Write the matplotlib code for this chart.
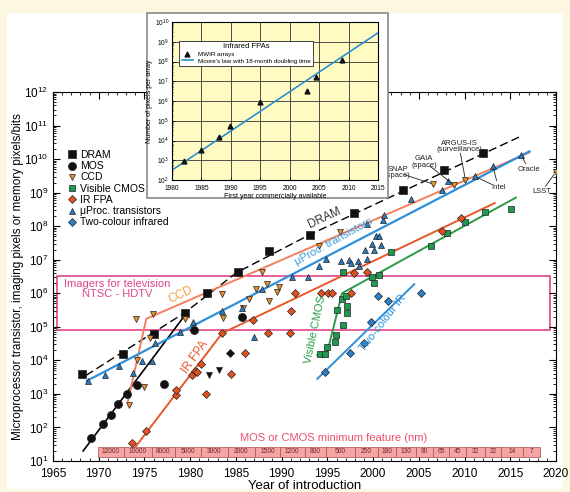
import numpy as np
import matplotlib.pyplot as plt
from matplotlib.patches import Rectangle
from matplotlib.ticker import LogLocator, MultipleLocator, NullFormatter, FuncFormatter
from matplotlib.lines import Line2D

plt.rcParams['font.family'] = ['Liberation Sans', 'DejaVu Sans']
plt.rcParams['mathtext.default'] = 'regular'

# ---- main chart data (values as log10 exponents) ----
dram_year = [1968.2, 1972.6, 1976.0, 1979.4, 1981.8, 1985.2, 1988.6, 1993.1, 1997.9, 2003.3, 2007.7, 2012.0]
dram_exp = [3.6, 4.2, 4.8, 5.42, 6.02, 6.62, 7.25, 7.75, 8.4, 9.08, 9.68, 10.18]
dram_fit_year = [1968.6, 1979.4, 1985.1, 1993.1, 2016.3]
dram_fit_exp = [3.55, 5.42, 6.62, 7.75, 10.7]

mos_year = [1969.2, 1970.5, 1971.3, 1972.1, 1973.1, 1974.2, 1977.1, 1980.4, 1985.7]
mos_exp = [1.7, 2.1, 2.38, 2.7, 3.0, 3.28, 3.3, 4.9, 5.28]
mos_fit_year = [1968.3, 1979.3]
mos_fit_exp = [1.3, 5.3]

other_diamond = ([1984.4], [4.22])
other_tri = ([1982.1, 1983.2], [3.55, 3.7])

ccd_year = [1973.3, 1974.2, 1975.0, 1974.1, 1975.9, 1975.6, 1979.4, 1983.5, 1983.6, 1985.8,
            1986.4, 1987.2, 1987.9, 1988.6, 1988.4, 1989.5, 1989.7, 1994.1, 1996.4,
            2006.6, 2008.9, 2010.1, 2020.0]
ccd_exp = [2.68, 4.02, 3.2, 5.23, 5.37, 4.68, 5.22, 5.98, 5.26, 5.55,
           5.82, 6.14, 6.62, 5.77, 6.28, 6.05, 6.2, 7.42, 7.82,
           9.25, 9.22, 9.38, 9.62]
ccd_fit_year = [1973.2, 1975.2, 2017.1]
ccd_fit_exp = [2.79, 5.24, 10.2]

cmos_year = [1994.2, 1994.7, 1995.0, 1995.8, 1995.9, 1996.0, 1996.7, 1996.6, 1997.0, 1997.1,
             1997.2, 1996.7, 1999.9, 2000.1, 2000.6, 2002.0, 2006.3, 2008.1, 2010.1, 2012.2, 2015.1]
cmos_exp = [4.19, 4.19, 4.39, 4.56, 4.76, 5.49, 5.06, 5.84, 5.91, 5.41,
            5.61, 6.63, 6.5, 6.32, 6.53, 7.23, 7.42, 7.8, 8.12, 8.42, 8.5]
cmos_fit_year = [1993.9, 1995.0, 1996.6, 2015.6]
cmos_fit_exp = [4.15, 4.25, 6.0, 8.85]

irfpa_year = [1973.6, 1975.2, 1978.4, 1978.5, 1980.2, 1980.5, 1980.8, 1981.2, 1981.7, 1983.5,
              1984.5, 1986.0, 1986.9, 1988.5, 1990.9, 1991.0, 1991.5, 1994.3, 1995.1, 1995.5,
              1997.6, 1997.9, 1999.3, 2007.5, 2009.6]
irfpa_exp = [1.53, 1.88, 2.97, 3.12, 3.57, 3.69, 3.65, 3.89, 2.99, 4.83,
             3.6, 4.21, 5.2, 4.81, 4.81, 5.48, 6.02, 6.0, 6.0, 6.0,
             6.0, 6.6, 6.64, 7.87, 8.25]
irfpa_fit_year = [1973.4, 1983.5, 2013.3]
irfpa_fit_exp = [1.2, 4.81, 8.69]

uproc_year = [1968.8, 1970.7, 1972.2, 1973.8, 1974.7, 1975.8, 1976.1, 1978.9, 1980.3, 1983.5,
              1985.7, 1987.0, 1987.9, 1991.1, 1992.9, 1994.1, 1994.8, 1996.5, 1997.4, 1997.6,
              1998.3, 1998.5, 1999.3, 1999.1, 1999.9, 2000.1, 2000.3, 2000.6, 2000.9, 1999.3,
              2001.1, 2001.2, 2004.1, 2007.5, 2008.2, 2011.1, 2013.1, 2016.2]
uproc_exp = [3.39, 3.55, 3.82, 3.62, 3.97, 3.97, 4.51, 4.86, 5.14, 5.46,
             5.56, 4.71, 6.13, 6.49, 6.49, 6.8, 7.03, 6.97, 7.0, 6.9,
             6.95, 6.8, 7.03, 7.3, 7.47, 7.3, 7.7, 7.72, 7.45, 8.07,
             8.19, 8.34, 8.8, 9.08, 9.36, 9.49, 9.79, 10.13]
uproc_fit_year = [1968.7, 2017.1]
uproc_fit_exp = [3.39, 10.23]

twocol_year = [1994.7, 1997.5, 1999.0, 1999.8, 2000.5, 2001.6, 2005.2]
twocol_exp = [3.64, 4.23, 4.53, 5.13, 5.93, 5.76, 6.02]
twocol_fit_year = [1993.9, 2004.5]
twocol_fit_exp = [3.45, 6.27]

tv_years = [1965.4, 2019.3]
tv_exp = [4.92, 6.52]

feature_nm = ['12000', '10000', '8000', '5000', '3000', '2000', '1500', '1200', '800', '500',
              '250', '180', '130', '90', '65', '45', '32', '22', '14', '7']
feature_edges = [1969.9, 1972.8, 1975.8, 1978.3, 1981.2, 1984.1, 1987.1, 1989.8, 1992.5, 1994.9,
                 1998.0, 2000.5, 2002.5, 2004.7, 2006.6, 2008.3, 2010.2, 2012.2, 2014.0, 2016.4, 2018.2]

# annotations: (label, text pos, [target points])
notes = [
    ('SNAP\n(space)', (2002.7, 9.6), [(2006.6, 9.25)]),
    ('GAIA\n(space)', (2005.6, 9.92), [(2008.9, 9.22)]),
    ('ARGUS-IS\n(surveillance)', (2009.4, 10.38), [(2010.1, 9.38)]),
    ('Intel', (2013.7, 9.15), [(2011.1, 9.49), (2013.1, 9.79)]),
    ('Oracle', (2017.0, 9.68), [(2016.2, 10.13)]),
    ('LSST', (2018.4, 9.02), [(2020.0, 9.62)]),
]

# ---- inset data ----
mwir_year = [1982.0, 1985.0, 1988.0, 1989.9, 1994.9, 2002.9, 2004.4, 2008.8]
mwir_exp = [2.97, 3.5, 4.17, 4.75, 5.95, 6.53, 7.2, 8.08]
moore_year = [1980, 2015]
moore_exp = [2.5, 9.45]

c_ccd, c_ccd_line = '#E8902C', '#F2805E'
c_ir, c_ir_line = '#E2521F', '#E8582A'
c_cmos, c_cmos_line = '#1E9A50', '#2A9A48'
c_up, c_up_line = '#2C7DC0', '#2E90DA'
c_2c = '#2C80C8'
c_pink = '#E0458B'

def p10(v):
    return np.power(10.0, v)

fig = plt.figure(figsize=(5.7, 4.92), dpi=100)
fig.patch.set_facecolor('#FCF7E1')
fig.add_artist(Rectangle((7 / 570, 3 / 492), 556 / 570, 476 / 492, transform=fig.transFigure,
                         fc='white', ec='none', zorder=-1))

ax = fig.add_axes([53 / 570, 31 / 492, 503 / 570, 369 / 492])
ax.set_facecolor('white')
ax.set_yscale('log')
ax.set_xlim(1965, 2020)
ax.set_ylim(10, 1e12)

# TV band
ax.add_patch(Rectangle((tv_years[0], p10(tv_exp[0])), tv_years[1] - tv_years[0],
                       p10(tv_exp[1]) - p10(tv_exp[0]), fill=False, ec=c_pink, lw=1.2, zorder=1))
ax.text(1972.0, p10(6.12), 'Imagers for television\nNTSC - HDTV', color=c_pink, fontsize=8,
        ha='center', va='center', linespacing=1.05)

# fit lines
ax.plot(dram_fit_year, p10(dram_fit_exp), color='k', lw=1, dashes=(6, 3), zorder=2)
ax.plot(mos_fit_year, p10(mos_fit_exp), color='k', lw=1.2, zorder=2)
ax.plot(ccd_fit_year, p10(ccd_fit_exp), color=c_ccd_line, lw=1.4, zorder=2)
ax.plot(irfpa_fit_year, p10(irfpa_fit_exp), color=c_ir_line, lw=1.4, zorder=2)
ax.plot(cmos_fit_year, p10(cmos_fit_exp), color=c_cmos_line, lw=1.4, zorder=2)
ax.plot(uproc_fit_year, p10(uproc_fit_exp), color=c_up_line, lw=1.6, zorder=2)
ax.plot(twocol_fit_year, p10(twocol_fit_exp), color=c_up_line, lw=1.4, zorder=2)

mk = dict(ls='none', mec='#222222', mew=0.5, zorder=3)
ax.plot(dram_year, p10(dram_exp), marker='s', ms=5.2, mfc='#111111', **mk)
ax.plot(mos_year, p10(mos_exp), marker='o', ms=5.8, mfc='#111111', **mk)
ax.plot(other_diamond[0], p10(other_diamond[1]), marker='D', ms=4.2, mfc='#111111', **mk)
ax.plot(other_tri[0], p10(other_tri[1]), marker='v', ms=5, mfc='#111111', **mk)
ax.plot(ccd_year, p10(ccd_exp), marker='v', ms=5, mfc=c_ccd, **mk)
ax.plot(cmos_year, p10(cmos_exp), marker='s', ms=4.3, mfc=c_cmos, **mk)
ax.plot(irfpa_year, p10(irfpa_exp), marker='D', ms=4.2, mfc=c_ir, **mk)
ax.plot(uproc_year, p10(uproc_exp), marker='^', ms=5, mfc=c_up, **mk)
ax.plot(twocol_year, p10(twocol_exp), marker='D', ms=4.2, mfc=c_2c, **mk)

# line labels
ax.text(1979.0, p10(5.96), 'CCD', color='#F0A040', fontsize=8.5, rotation=25, ha='center', va='center')
ax.text(1995.7, p10(7.55), '\u03bcProc. transistors', color='#3A9AD9', fontsize=8, rotation=29,
        ha='center', va='center')
ax.text(1994.7, p10(8.24), 'DRAM', color='#333333', fontsize=8.5, rotation=25, ha='center', va='center')
ax.text(1980.6, p10(4.11), 'IR FPA', color=c_ir_line, fontsize=8.5, rotation=55, ha='center', va='center')
ax.text(1993.7, p10(4.91), 'Visible CMOS', color=c_cmos_line, fontsize=8, rotation=78,
        ha='center', va='center')
ax.text(2001.1, p10(5.11), 'Two-colour IR', color=c_up_line, fontsize=8, rotation=52,
        ha='center', va='center')

# annotations
for label, (tx, ty), targets in notes:
    ax.text(tx, p10(ty), label, fontsize=5.5, ha='center', va='center', linespacing=0.9,
            color='#222222', zorder=5)
    for (px, py) in targets:
        ax.annotate('', xy=(px, p10(py)), xytext=(tx, p10(ty)),
                    arrowprops=dict(arrowstyle='-', lw=0.6, color='#222222', shrinkA=5, shrinkB=2))

# feature size bar
for i, lab in enumerate(feature_nm):
    x0, x1 = feature_edges[i], feature_edges[i + 1]
    ax.add_patch(Rectangle((x0, p10(1.12)), x1 - x0, p10(1.42) - p10(1.12),
                           fc='#F5A3A3', ec='#A85050', lw=0.5, zorder=2))
    ax.text((x0 + x1) / 2, p10(1.27), lab, fontsize=4.8, color='#6A2A2A', ha='center', va='center', zorder=3)
ax.text(1995.7, p10(1.68), 'MOS or CMOS minimum feature (nm)', fontsize=8, color='#E8506A',
        ha='center', va='center')

# axes styling
ax.set_xticks(range(1965, 2021, 5))
ax.xaxis.set_minor_locator(MultipleLocator(1))
ax.yaxis.set_major_locator(LogLocator(base=10, numticks=20))
ax.yaxis.set_minor_locator(LogLocator(base=10, subs=np.arange(2, 10), numticks=20))
ax.yaxis.set_minor_formatter(NullFormatter())
ax.yaxis.set_major_formatter(FuncFormatter(lambda v, p: '$10^{%d}$' % round(np.log10(v))))
ax.tick_params(which='both', direction='in', top=True, right=True, labelsize=8.5)
ax.tick_params(which='major', length=5, width=0.8)
ax.tick_params(which='minor', length=2.5, width=0.6)
ax.tick_params(axis='x', pad=5)
ax.set_xlabel('Year of introduction', fontsize=9.5, labelpad=0)
ax.set_ylabel('Microprocessor transistor, imaging pixels or memory pixels/bits', fontsize=8.5)
ax.yaxis.set_label_coords(-0.058, 0.5)

# legend
handles = [
    Line2D([], [], marker='s', ms=5.2, mfc='#111111', **mk),
    Line2D([], [], marker='o', ms=5.8, mfc='#111111', **mk),
    Line2D([], [], marker='v', ms=5, mfc=c_ccd, **mk),
    Line2D([], [], marker='s', ms=4.3, mfc=c_cmos, **mk),
    Line2D([], [], marker='D', ms=4.2, mfc=c_ir, **mk),
    Line2D([], [], marker='^', ms=5, mfc=c_up, **mk),
    Line2D([], [], marker='D', ms=4.2, mfc=c_2c, **mk),
]
labels = ['DRAM', 'MOS', 'CCD', 'Visible CMOS', 'IR FPA', '\u03bcProc. transistors', 'Two-colour infrared']
ax.legend(handles, labels, loc='upper left', bbox_to_anchor=(0.02, 0.857), frameon=False, fontsize=7.5,
          handlelength=0.8, handletextpad=0.35, labelspacing=0.12, borderpad=0)

# ---- inset ----
fig.add_artist(Rectangle((147 / 570, (492 - 198) / 492), 241 / 570, 185 / 492, transform=fig.transFigure,
                         fc='white', ec='#8A8A8A', lw=1.2, zorder=1))
ins = fig.add_axes([172 / 570, (492 - 180) / 492, 206 / 570, 158 / 492], zorder=2)
ins.set_facecolor('#FFFBC2')
ins.set_yscale('log')
ins.set_xlim(1980, 2015)
ins.set_ylim(1e2, 1e10)
ins.set_xticks(range(1980, 2016, 5))
ins.yaxis.set_major_locator(LogLocator(base=10, numticks=20))
ins.yaxis.set_minor_locator(LogLocator(base=10, subs=np.arange(2, 10), numticks=20))
ins.yaxis.set_minor_formatter(NullFormatter())
ins.yaxis.set_major_formatter(FuncFormatter(lambda v, p: '$10^{%d}$' % round(np.log10(v))))
ins.grid(True, which='major', color='#333333', lw=0.6)
ins.tick_params(which='both', direction='in', labelsize=4.8, length=2, width=0.5, pad=2)
ins.tick_params(axis='x', pad=3.5)
ins.tick_params(which='minor', length=1)
for s in ins.spines.values():
    s.set_linewidth(0.8)
ins.plot(moore_year, p10(moore_exp), color='#2A90D0', lw=1.2, label="Moore's law with 18-month doubling time")
ins.plot(mwir_year, p10(mwir_exp), ls='none', marker='^', ms=3.5, color='#111111', label='MWIR arrays')
h, l = ins.get_legend_handles_labels()
leg = ins.legend(h[::-1], l[::-1], title='Infrared FPAs', loc='upper left', bbox_to_anchor=(0.02, 0.9),
                 fontsize=4.5, title_fontsize=5.5, fancybox=False, edgecolor='#222222', framealpha=1,
                 handlelength=1.8, borderpad=0.4, labelspacing=0.2)
leg.get_frame().set_linewidth(0.6)
ins.set_xlabel('First year commercially available', fontsize=5, labelpad=0.5)
ins.set_ylabel('Number of pixels per array', fontsize=5, labelpad=1)

fig.savefig('out.png', dpi=100, facecolor=fig.get_facecolor())
